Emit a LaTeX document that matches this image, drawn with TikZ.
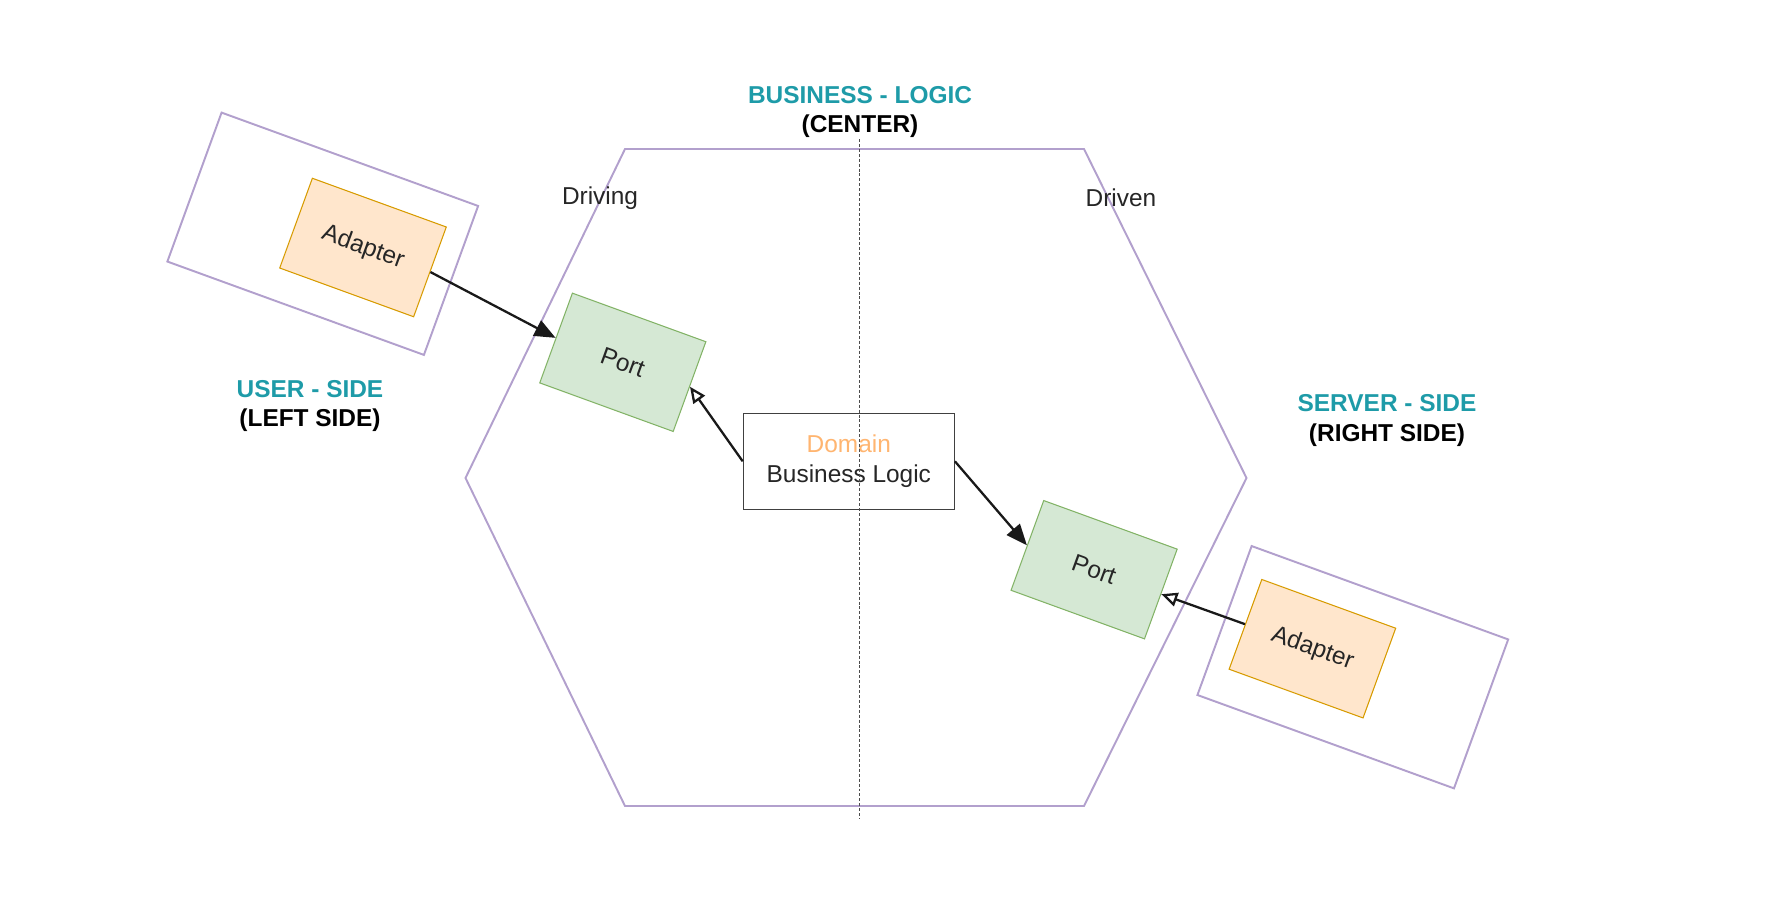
\documentclass[tikz,border=0pt]{standalone}
\usepackage{fontspec}
\setmainfont{Liberation Sans}
\usetikzlibrary{arrows.meta}
\definecolor{hexpurple}{RGB}{178,160,205}
\definecolor{sideteal}{RGB}{30,155,168}
\definecolor{adapterfill}{HTML}{FFE6CC}
\definecolor{adapterline}{HTML}{D79B00}
\definecolor{portfill}{HTML}{D5E8D4}
\definecolor{portline}{HTML}{82B366}
\definecolor{domainorange}{HTML}{FFB570}
\begin{document}
\begin{tikzpicture}[
  every node/.style={font=\fontsize{13.9}{17}\selectfont, text=black!85},
  outerbox/.style={shape=rectangle, draw=hexpurple, line width=1.1pt, rotate=-20, minimum width=5.46cm, minimum height=3.17cm},
  adapterbox/.style={shape=rectangle, draw=adapterline, fill=adapterfill, line width=0.6pt, rotate=-20, minimum width=2.85cm, minimum height=1.91cm},
  portbox/.style={shape=rectangle, draw=portline, fill=portfill, line width=0.6pt, rotate=-20, minimum width=2.84cm, minimum height=1.91cm},
  domainbox/.style={shape=rectangle, draw=black!75, fill=white, line width=0.7pt, minimum width=4.22cm, minimum height=1.92cm, align=center},
  sidelabel/.style={align=center, font=\fontsize{13.9}{17}\selectfont\bfseries, text=black},
  hexline/.style={draw=hexpurple, line width=1.1pt, line join=miter},
  solidarrow/.style={-{Triangle[length=0.42cm, width=0.34cm]}, line width=1.3pt, draw=black!90},
  openarrow/.style={-{Triangle[open, length=0.32cm, width=0.28cm]}, line width=1.3pt, draw=black!90},
  dashline/.style={draw=black!70, line width=0.55pt, dash pattern=on 1.7pt off 1.1pt}
]
\useasboundingbox (0,0) rectangle (35.4,-18.24);
% hexagon
\draw[hexline] (12.5,-2.98) -- (21.68,-2.98) -- (24.93,-9.56) -- (21.68,-16.12) -- (12.5,-16.12) -- (9.31,-9.56) -- cycle;
% user side
\node[outerbox] (userbox) at (6.455,-4.675) {};
\node[adapterbox] (useradapter) at (7.26,-4.95) {Adapter};
\node[portbox] (userport) at (12.456,-7.246) {Port};
% server side
\node[portbox] (serverport) at (21.882,-11.394) {Port};
\node[outerbox] (serverbox) at (27.056,-13.344) {};
\node[adapterbox] (serveradapter) at (26.248,-12.974) {Adapter};
% center
\node[domainbox] (domain) at (16.976,-9.226) {\textcolor{domainorange}{Domain}\\Business Logic};
\node[sidelabel] (centerlabel) at (17.2,-2.24) {\textcolor{sideteal}{BUSINESS - LOGIC}\\(CENTER)};
\node[sidelabel] (userlabel) at (6.2,-8.12) {\textcolor{sideteal}{USER - SIDE}\\(LEFT SIDE)};
\node[sidelabel] (serverlabel) at (27.74,-8.41) {\textcolor{sideteal}{SERVER - SIDE}\\(RIGHT SIDE)};
\node (driving) at (12.0,-3.96) {Driving};
\node (driven) at (22.42,-3.96) {Driven};
\draw[solidarrow] (useradapter.east) -- (userport.west);
\draw[openarrow] (domain.west) -- (userport.east);
\draw[solidarrow] (domain.east) -- (serverport.west);
\draw[openarrow] (serveradapter.west) -- (serverport.east);
\draw[dashline] (17.18,-2.78) -- (17.18,-16.38);
\end{tikzpicture}
\end{document}
